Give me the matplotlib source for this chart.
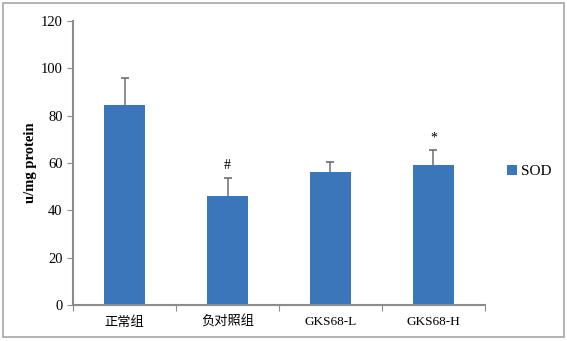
import matplotlib
matplotlib.use("Agg")
import matplotlib.pyplot as plt
from matplotlib.patches import Rectangle
import numpy as np

categories = ["正常组", "负对照组", "GKS68-L", "GKS68-H"]
values = [84.5, 46.0, 56.0, 59.0]
errors = [11.5, 7.5, 4.5, 6.3]
marks = ["", "#", "", "*"]
series_name = "SOD"
yticks = [0, 20, 40, 60, 80, 100, 120]

plt.rcParams['font.family'] = ['Liberation Serif', 'Noto Sans CJK SC']

fig = plt.figure(figsize=(5.67, 3.41), dpi=100)
fig.patches.append(Rectangle((0.006, 0.012), 0.988, 0.978, transform=fig.transFigure,
                             fill=False, edgecolor='#a6a6a6', linewidth=1.2))
ax = fig.add_axes([0.129, 0.106, 0.726, 0.832])

x = np.arange(len(categories))
bar_color = '#3C76BA'
gray = '#8c8c8c'
# symmetric error bars drawn behind the bars: only the upper half shows
ax.errorbar(x, values, yerr=errors, fmt='none',
            ecolor='#6e6e6e', elinewidth=1.1, capsize=2.8, capthick=1.2, zorder=1)
ax.bar(x, values, width=0.4, color=bar_color, label=series_name, zorder=2)
for xi, v, e, m in zip(x, values, errors, marks):
    if m:
        ax.text(xi, v + e + 2.5, m, ha='center', va='bottom', fontsize=10)

ax.set_xlim(-0.5, len(categories) - 0.5)
ax.set_ylim(0, 120)
ax.set_yticks(yticks)
ax.set_yticklabels([str(t) for t in yticks], fontsize=10.5)
ax.set_xticks(np.arange(len(categories) + 1) - 0.5, minor=False)
ax.set_xticklabels([])
ax.set_xticks(x, minor=True)
ax.set_xticklabels(categories, minor=True, fontsize=9.5)
ax.tick_params(axis='x', which='minor', length=0, pad=8)
ax.tick_params(axis='x', which='major', length=4, color=gray, direction='out')
ax.tick_params(axis='y', length=4, color=gray, direction='out')
for s in ['top', 'right']:
    ax.spines[s].set_visible(False)
for s in ['left', 'bottom']:
    ax.spines[s].set_color(gray)
    ax.spines[s].set_linewidth(1.5)
ax.set_ylabel("u/mg protein", fontsize=10.5, fontweight='bold', labelpad=3)

ax.legend(loc='center left', bbox_to_anchor=(1.02, 0.47), frameon=False,
          fontsize=11, handlelength=0.65, handleheight=0.65, handletextpad=0.3)

fig.savefig("out.png", dpi=100)
